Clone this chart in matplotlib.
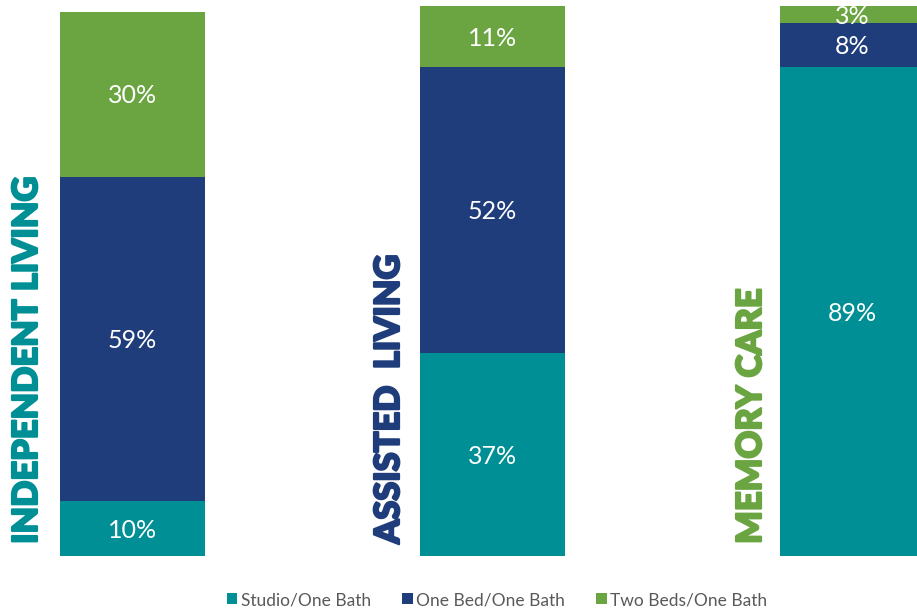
import matplotlib
matplotlib.use("Agg")
import matplotlib.pyplot as plt
import matplotlib.patheffects as pe
from matplotlib.patches import Patch
from matplotlib import font_manager as fm
from matplotlib.font_manager import FontProperties

plt.rcParams["font.family"] = ["Lato", "DejaVu Sans"]

# Unit mix by care level (percent of units)
care_levels = ["INDEPENDENT LIVING", "ASSISTED  LIVING", "MEMORY CARE"]
unit_types = ["Studio/One Bath", "One Bed/One Bath", "Two Beds/One Bath"]
studio = [10, 37, 89]
one_bed = [59, 52, 8]
two_beds = [30, 11, 3]

series = [studio, one_bed, two_beds]
colors = ["#008F95", "#1F3D7A", "#6AA542"]
label_colors = ["#008F95", "#1F3D7A", "#6AA542"]

W, H = 917, 610
fig = plt.figure(figsize=(W / 100, H / 100), dpi=100)
ax = fig.add_axes([0, (H - 556) / H, 1, (556 - 6) / H])

spacing_px = 360.0
x0_px = 132.5
ax.set_xlim(-x0_px / spacing_px, (W - x0_px) / spacing_px)
ax.set_ylim(0, 100)
ax.axis("off")

positions = list(range(len(care_levels)))
bar_w = 145 / spacing_px

bottoms = [0.0] * len(care_levels)
for vals, col in zip(series, colors):
    ax.bar(positions, vals, width=bar_w, bottom=bottoms, color=col,
           edgecolor="none", linewidth=0)
    for p, v, b in zip(positions, vals, bottoms):
        t = ax.text(p, b + v / 2 - 0.35, f"{v}%", ha="center", va="center",
                    color="white", fontsize=18)
        t.set_clip_on(True)
    bottoms = [b + v for b, v in zip(bottoms, vals)]

# Heavy face for the vertical care-level captions
black_files = [f.fname for f in fm.fontManager.ttflist
               if f.name == "Lato" and f.fname.endswith("Lato-Black.ttf")]
if black_files:
    heavy = FontProperties(fname=black_files[0], size=24.8)
else:
    heavy = FontProperties(family="Lato", weight="bold", size=24.8)

label_offsets_px = [105.5, 103.5, 101.5]
for p, name, col, off in zip(positions, care_levels, label_colors, label_offsets_px):
    ax.text(p - off / spacing_px, 2.2, name, rotation=90, ha="center",
            va="bottom", color=col, fontproperties=heavy,
            path_effects=[pe.withStroke(linewidth=1.6, foreground=col)])

handles = [Patch(facecolor=c, edgecolor="none") for c in colors]
fig.legend(handles, unit_types, loc="center", ncol=3, frameon=False,
           bbox_to_anchor=(497 / W, 1 - 600 / H), fontsize=12.5,
           handlelength=0.6, handleheight=0.6, handletextpad=0.2,
           columnspacing=1.8, labelcolor="#595959")

fig.savefig("out.png", dpi=100)
